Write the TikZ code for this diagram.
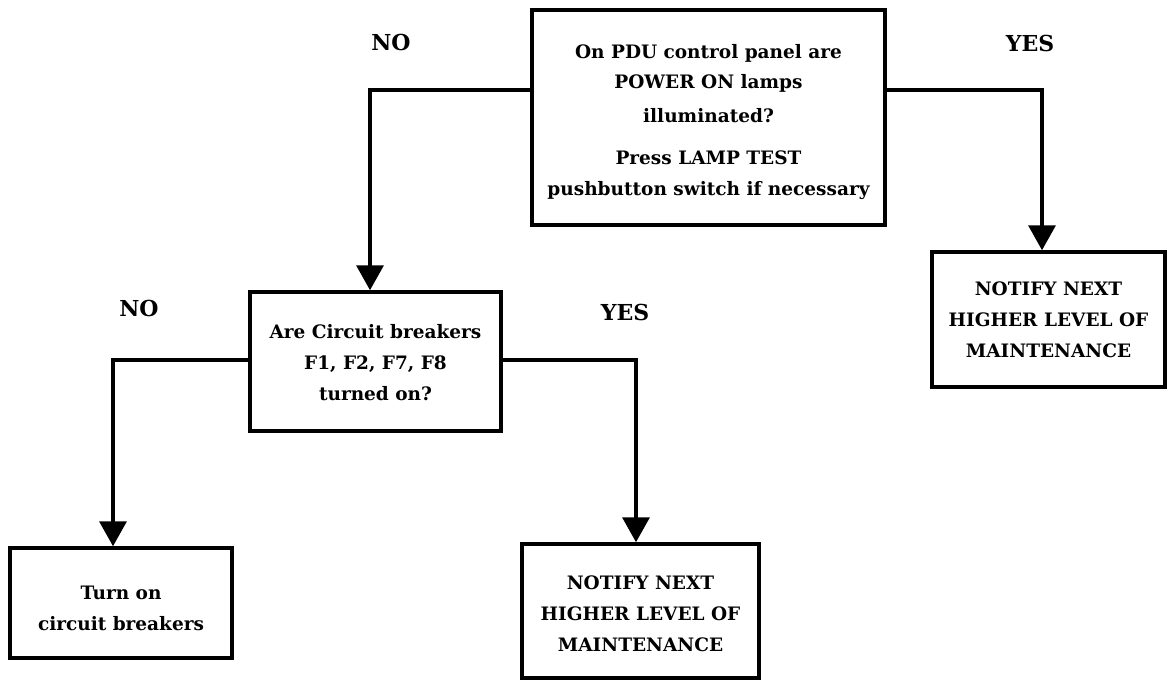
\documentclass[tikz,border=0pt]{standalone}
\usepackage{fontspec}
\setmainfont{DejaVu Serif}
\usetikzlibrary{arrows.meta}

\tikzset{
  box/.style={draw, line width=3.5pt, inner sep=0pt, rectangle},
  txt/.style={align=center, inner sep=0pt,
    font=\fontsize{18.5}{31}\selectfont\bfseries},
  branch/.style={inner sep=0pt, font=\fontsize{22}{26}\selectfont\bfseries},
  flow/.style={line width=3.5pt, -{Triangle[width=27pt,length=25pt]}},
}

\begin{document}
\begin{tikzpicture}[x=1pt, y=-1pt]
  \useasboundingbox (0,0) rectangle (1169,680);

  % decision and action boxes
  \node[box, minimum width=353pt, minimum height=215pt] (q1) at (708.5,117.5) {};
  \node[box, minimum width=251pt, minimum height=139pt] (q2) at (375.5,361.5) {};
  \node[box, minimum width=233pt, minimum height=135pt] (n1) at (1048.5,319.5) {};
  \node[box, minimum width=222pt, minimum height=110pt] (a1) at (121,603) {};
  \node[box, minimum width=237pt, minimum height=134pt] (n2) at (640.5,611) {};

  % box texts
  \node[txt] (q1t) at (708.5,122) {On PDU control panel are\\[-1pt]
    POWER ON lamps\\[3pt] illuminated?\\[11pt] Press LAMP TEST\\[0pt]
    pushbutton switch if necessary};
  \node[txt] (q2t) at (375.5,363) {Are Circuit breakers\\F1, F2, F7, F8\\turned on?};
  \node[txt] (n1t) at (1048.5,320) {NOTIFY NEXT\\HIGHER LEVEL OF\\MAINTENANCE};
  \node[txt] (a1t) at (121,608) {Turn on\\circuit breakers};
  \node[txt] (n2t) at (640.5,613.5) {NOTIFY NEXT\\HIGHER LEVEL OF\\MAINTENANCE};

  % branch labels
  \node[branch] (no1) at (391,42) {NO};
  \node[branch] (yes1) at (1030,43) {YES};
  \node[branch] (no2) at (139,308) {NO};
  \node[branch] (yes2) at (625,312) {YES};

  % connector corners
  \coordinate (tl) at (370,90);
  \coordinate (tr) at (1042,90);
  \coordinate (ml) at (113,360);
  \coordinate (mr) at (636,360);

  % connectors
  \draw[flow] (q1.west |- tl) -- (tl) -- (q2.north -| tl);
  \draw[flow] (q1.east |- tr) -- (tr) -- (n1.north -| tr);
  \draw[flow] (q2.west |- ml) -- (ml) -- (a1.north -| ml);
  \draw[flow] (q2.east |- mr) -- (mr) -- (n2.north -| mr);
\end{tikzpicture}
\end{document}
